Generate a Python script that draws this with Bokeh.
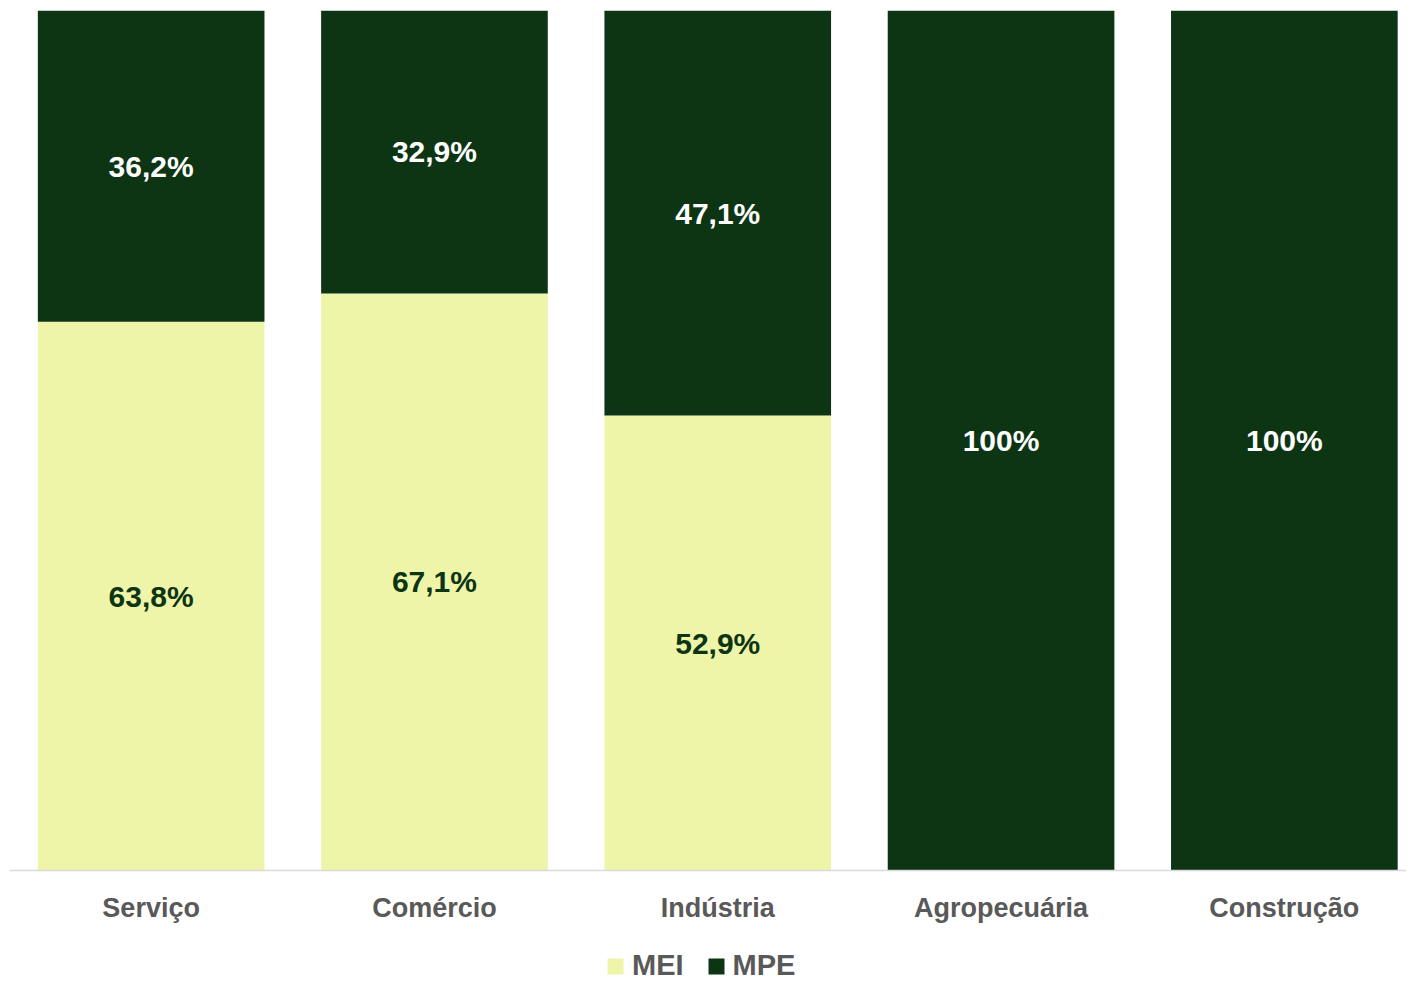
from bokeh.plotting import figure
from bokeh.models import ColumnDataSource, Range1d, FixedTicker, Legend, LegendItem
from bokeh.layouts import column
from bokeh.embed import file_html
from bokeh.resources import INLINE
from bokeh.core.properties import value

categories = ["Serviço", "Comércio", "Indústria", "Agropecuária", "Construção"]
mei = [63.8, 67.1, 52.9, 0.0, 0.0]
mpe = [36.2, 32.9, 47.1, 100.0, 100.0]
series_names = ["MEI", "MPE"]

LIGHT = "#EEF5A8"
DARK = "#0D3514"
GRAY = "#595959"
FONT = "Liberation Sans"


def fmt(v):
    if v <= 0:
        return ""
    if abs(v - round(v)) < 1e-9 and v >= 100:
        return f"{int(round(v))}%"
    return f"{v:.1f}".replace(".", ",") + "%"


xs = [i + 0.5 for i in range(len(categories))]
mei_frac = [v / 100 for v in mei]
mpe_frac = [v / 100 for v in mpe]

src = ColumnDataSource(dict(x=xs, mei=mei_frac, mpe=mpe_frac))

STEP = 283.3
FRAME_W = 1397
p = figure(width=1406, height=930, output_backend="svg", toolbar_location=None,
           x_range=Range1d(0, FRAME_W / STEP), y_range=Range1d(0, 1),
           min_border_left=9, min_border_right=0, min_border_top=10, min_border_bottom=60)
p.outline_line_color = None
p.grid.visible = False
p.yaxis.visible = False

rs = p.vbar_stack(["mei", "mpe"], x="x", width=0.8, source=src,
                  color=[LIGHT, DARK], line_color=None)

# data labels
lab_x, lab_y, lab_t, lab_c = [], [], [], []
for i, x in enumerate(xs):
    a, b = mei_frac[i], mpe_frac[i]
    if a > 0:
        lab_x.append(x); lab_y.append(a / 2); lab_t.append(fmt(mei[i])); lab_c.append(DARK)
    if b > 0:
        lab_x.append(x); lab_y.append(a + b / 2); lab_t.append(fmt(mpe[i])); lab_c.append("#FFFFFF")
lsrc = ColumnDataSource(dict(x=lab_x, y=lab_y, t=lab_t, c=lab_c))
p.text(x="x", y="y", text="t", source=lsrc, text_color="c",
       text_font=value(FONT), text_font_style="bold", text_font_size="30px",
       text_align="center", text_baseline="middle")

ax = p.xaxis[0]
ax.ticker = FixedTicker(ticks=xs)
ax.major_label_overrides = {x: c for x, c in zip(xs, categories)}
ax.major_label_text_font = FONT
ax.major_label_text_font_style = "bold"
ax.major_label_text_font_size = "27px"
ax.major_label_text_color = GRAY
ax.major_label_standoff = 22
ax.major_tick_line_color = None
ax.major_tick_out = 0
ax.major_tick_in = 0
ax.minor_tick_line_color = None
ax.axis_line_color = "#D9D9D9"
ax.axis_line_width = 1.5

# legend strip below the chart
p2 = figure(width=1406, height=56, output_backend="svg", toolbar_location=None,
            x_range=Range1d(0, 1), y_range=Range1d(0, 1),
            min_border_left=0, min_border_right=0, min_border_top=0, min_border_bottom=0)
p2.outline_line_color = None
p2.grid.visible = False
p2.axis.visible = False
dummy = []
for col in [LIGHT, DARK]:
    dummy.append(p2.vbar(x=[5], top=[5], bottom=[4], width=0.1, color=col, line_color=None))

legend = Legend(items=[LegendItem(label=n, renderers=[r]) for n, r in zip(series_names, dummy)],
                location=(596, 4), orientation="horizontal",
                glyph_width=20, glyph_height=20, label_standoff=7, spacing=22,
                padding=0, margin=0, border_line_color=None, background_fill_alpha=0,
                label_text_font=FONT, label_text_font_style="bold",
                label_text_font_size="29px", label_text_color=GRAY,
                label_height=30)
p2.add_layout(legend, "center")

layout = column(p, p2, spacing=0)
open("out.html", "w").write(file_html(layout, INLINE))
